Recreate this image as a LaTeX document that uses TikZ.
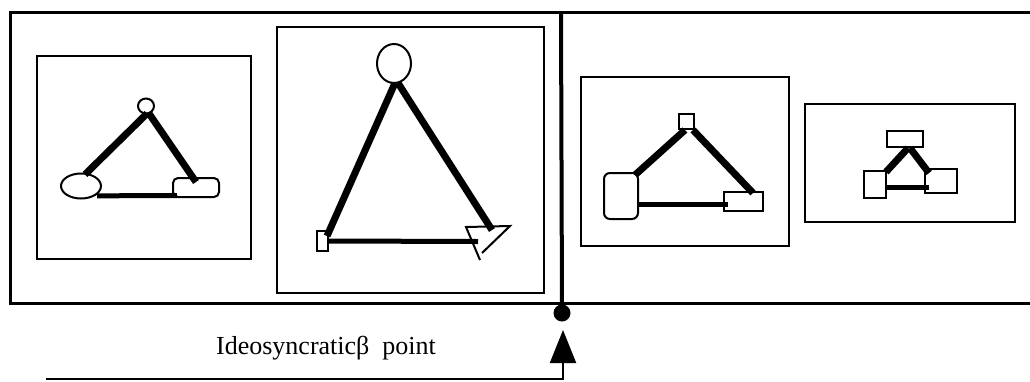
\documentclass[tikz,border=0pt]{standalone}
\usepackage{fontspec}
\setmainfont{Liberation Serif}
\usetikzlibrary{shapes.geometric,arrows.meta,calc}
\tikzset{
  frame/.style={draw,line width=3pt},
  panel/.style={draw,line width=2.5pt},
  shp/.style={draw,line width=2pt,inner sep=0pt,outer sep=0pt},
  edgethick/.style={line width=7pt},
  edgemid/.style={line width=5pt},
}
\begin{document}
\begin{tikzpicture}[x=1pt,y=-1pt]
\useasboundingbox (0,0) rectangle (1030,381);
% outer frame (open at right)
\draw[frame] (1032,12) -- (10,12) -- (10,303) -- (1032,303);
% divider
\node[circle,fill=black,inner sep=0pt,minimum size=17pt] (dot) at (562,313) {};
\coordinate (divtop) at (561,12);
\draw[line width=4pt] (divtop) -- (dot.center);
% panels
\draw[panel] (37,56) rectangle (251,259);
\draw[panel] (277,27) rectangle (544,293);
\draw[panel] (581,77) rectangle (789,246);
\draw[panel] (805,104) rectangle (1015,222);

% panel 1
\node[shp,ellipse,minimum width=16pt,minimum height=15pt] (a1) at (146,106) {};
\node[shp,ellipse,minimum width=40pt,minimum height=25pt] (b1) at (81,186) {};
\node[shp,rectangle,rounded corners=5pt,minimum width=46pt,minimum height=19pt] (c1) at (196,187.5) {};
\draw[edgethick] ([xshift=1pt]a1.south) -- ($(b1.north)+(4,1)$);
\draw[edgethick] ([xshift=3pt]a1.south) -- ($(c1.north)+(0,4)$);
\draw[edgemid] ($(b1.south east)+(2,1)$) -- ($(c1.south west)+(4,-1.5)$);

% panel 2
\node[shp,ellipse,minimum width=34pt,minimum height=39pt] (a2) at (394,63.5) {};
\node[shp,rectangle,minimum width=11pt,minimum height=20pt] (b2) at (322.5,241) {};
\coordinate (t2a) at (466,227);
\coordinate (t2b) at (510,226);
\coordinate (t2c) at (480,260);
\coordinate (t2d) at (482,253);
\draw[line width=2pt] (t2c) -- (t2a) -- (t2b) -- (t2d);
\coordinate (c2) at (492,230);
\draw[edgethick] ([xshift=1pt]a2.south) -- ($(b2.north east)+(-1,5)$);
\draw[edgethick] ([xshift=4pt]a2.south) -- (c2);
\draw[edgemid] ($(b2.east)$) -- (478,241.5);

% panel 3
\node[shp,rectangle,minimum width=15pt,minimum height=15pt] (a3) at (686.5,121.5) {};
\node[shp,rectangle,rounded corners=6pt,minimum width=34pt,minimum height=46pt] (b3) at (621,196) {};
\node[shp,rectangle,minimum width=39pt,minimum height=19pt] (c3) at (743.5,201.5) {};
\draw[edgethick] ($(a3.south west)+(6,1)$) -- ($(b3.north east)+(-3,2)$);
\draw[edgethick] ($(a3.south east)+(-1,1)$) -- ($(c3.north east)+(-10,1)$);
\draw[edgemid] ($(b3.east)+(0,8)$) -- ($(c3.west)+(4,2.5)$);

% panel 4
\node[shp,rectangle,minimum width=36pt,minimum height=16pt] (a4) at (905,139) {};
\node[shp,rectangle,minimum width=22pt,minimum height=27pt] (b4) at (875,184.5) {};
\node[shp,rectangle,minimum width=32pt,minimum height=24pt] (c4) at (941,181) {};
\draw[edgethick] ($(b4.north east)+(0,1)$) -- ($(a4.south)+(3,1)$);
\draw[edgethick] ($(a4.south)+(5,1)$) -- ($(c4.north west)+(4,4)$);
\draw[edgemid] ($(b4.east)+(0,2.5)$) -- ($(c4.west)+(4,6)$);

% label and arrow
\node[font=\fontsize{26}{30}\selectfont,inner sep=0pt] (lbl) at (326,348) {Ideosyncraticβ\ \ point};
\coordinate (astart) at (46,379);
\coordinate (atip) at (563,330);
\draw[line width=2pt,-{Triangle[length=33pt,width=26pt]}] (astart) -| (atip);
\end{tikzpicture}
\end{document}
